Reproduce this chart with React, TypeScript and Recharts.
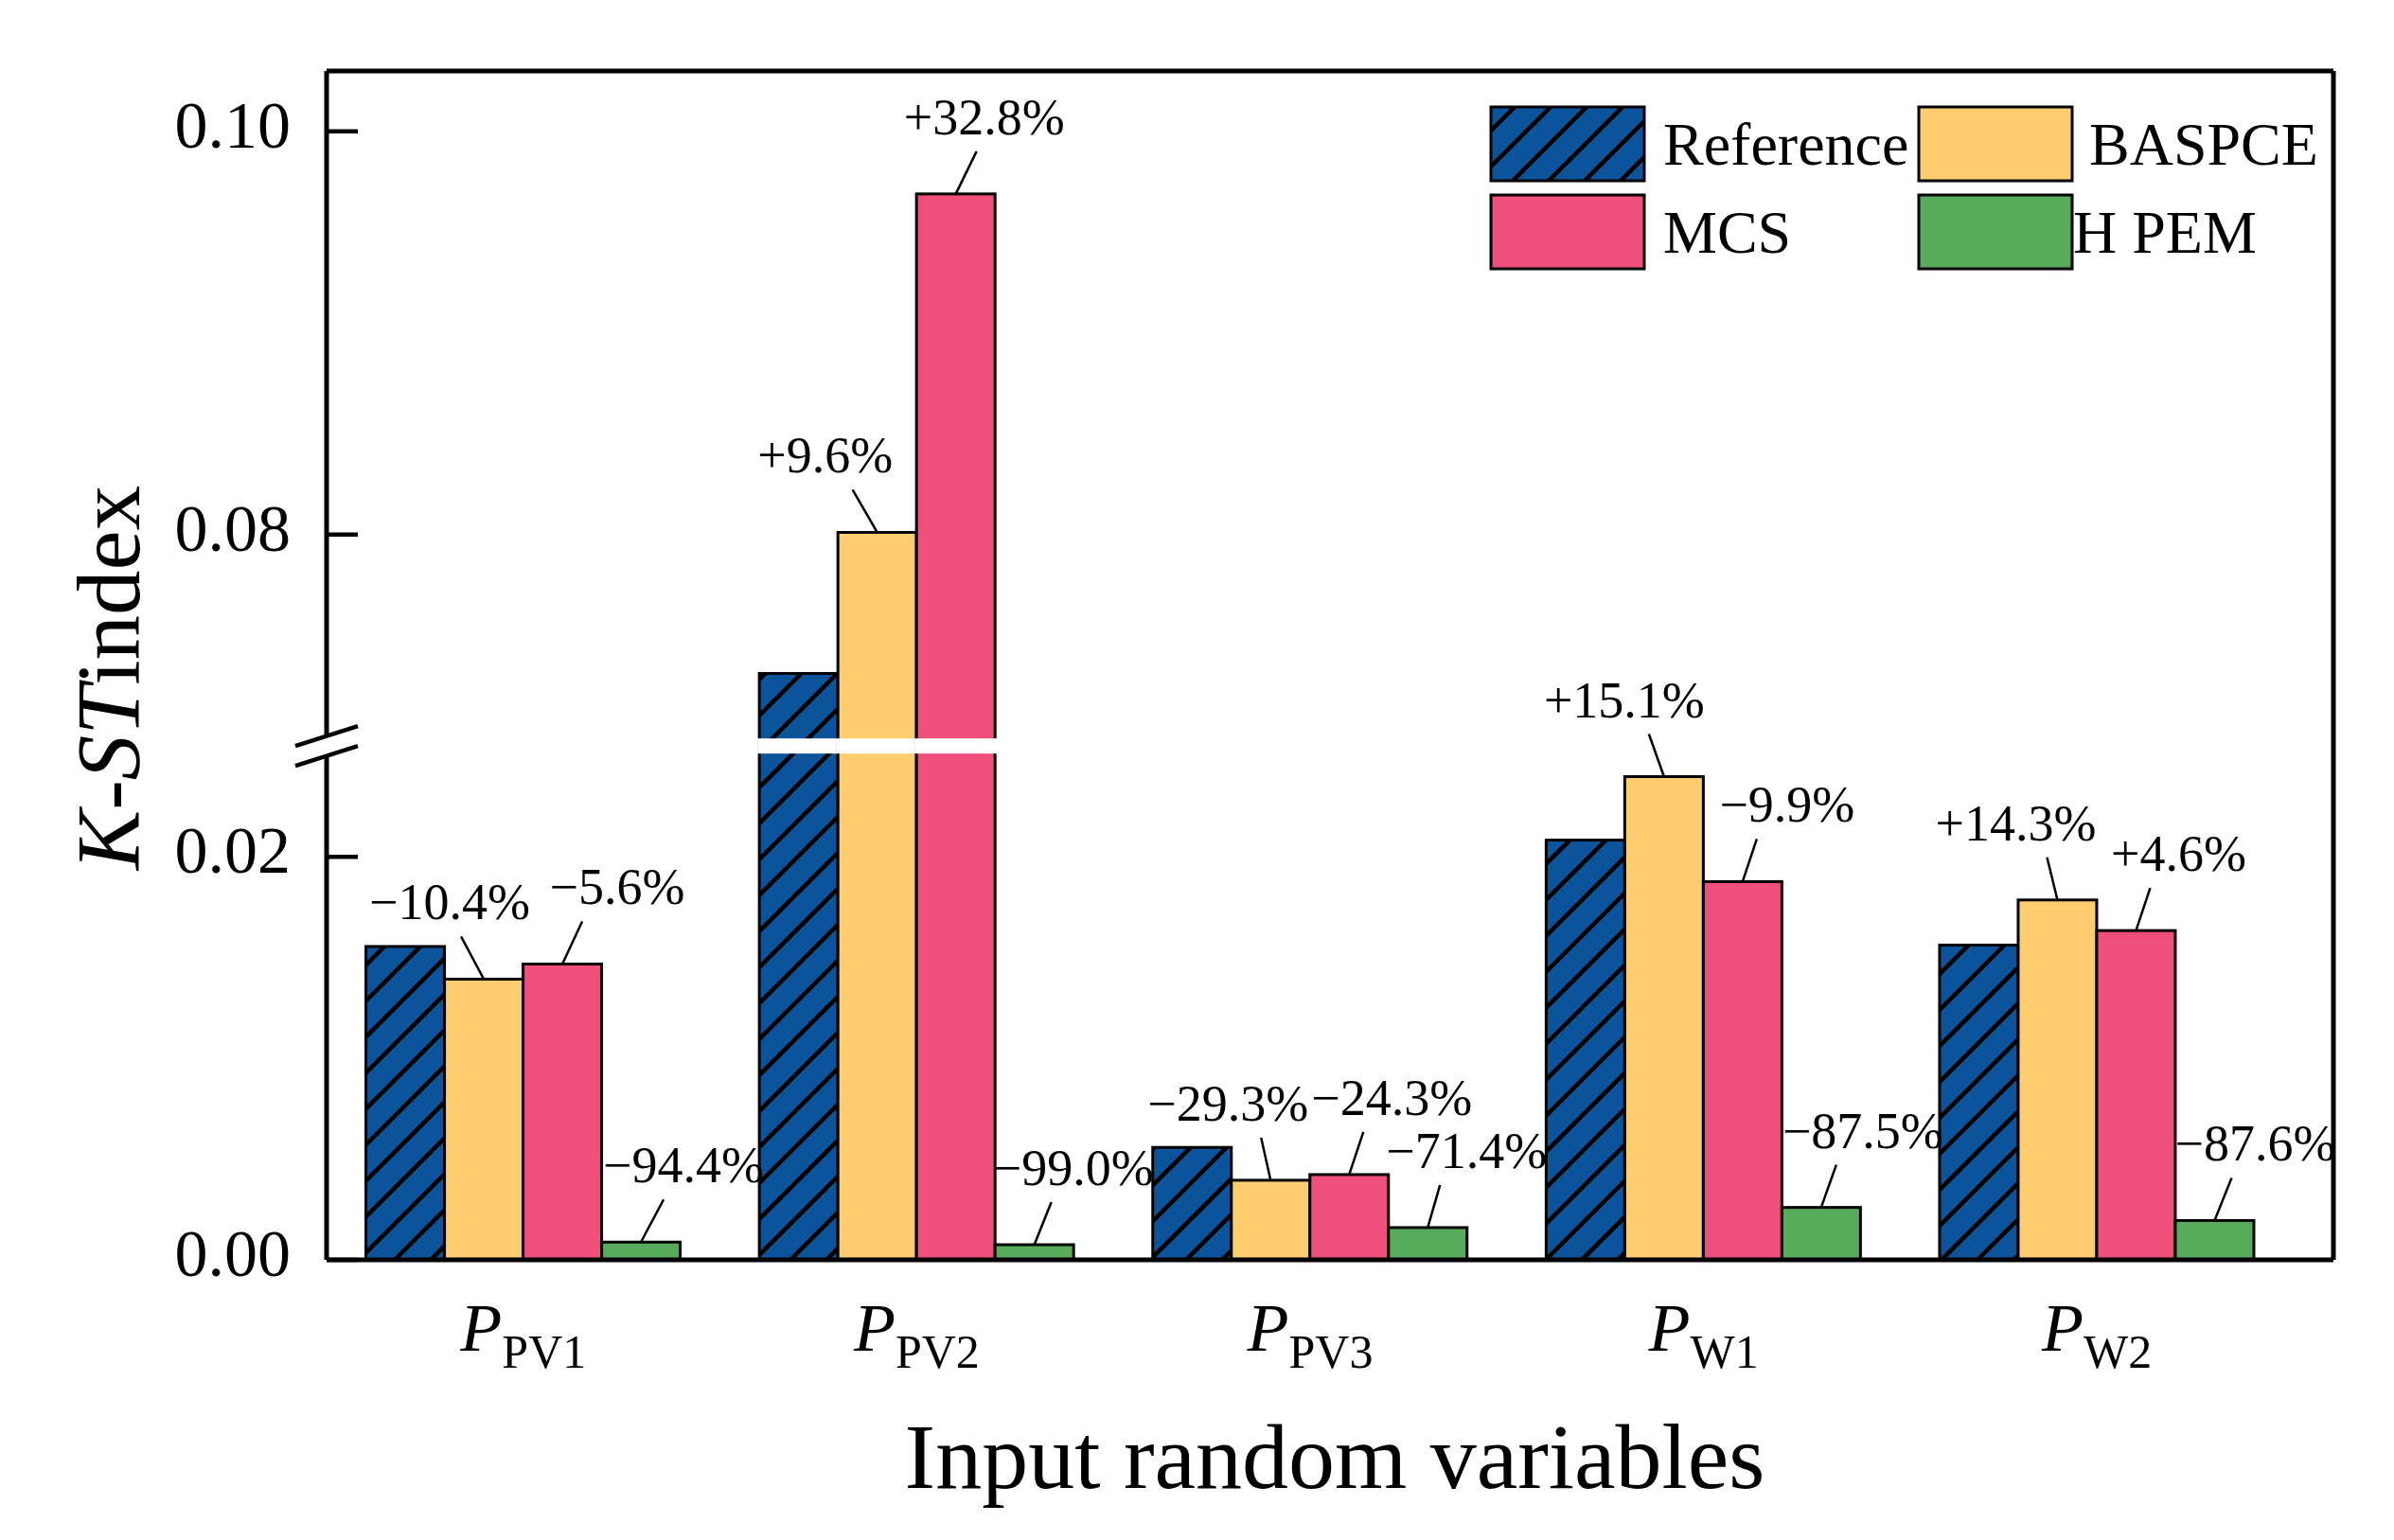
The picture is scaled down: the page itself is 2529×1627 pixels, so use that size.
import * as React from 'react';
import { BarChart, Bar, XAxis, YAxis, Legend, LabelList } from 'recharts';

// K-S index per input random variable
const categories = ['PV1', 'PV2', 'PV3', 'W1', 'W2'];
const referenceValues = [0.01555, 0.0731, 0.00558, 0.02083, 0.01562];
const baspceValues = [0.01393, 0.0801, 0.00395, 0.02398, 0.01786];
const mcsValues = [0.01468, 0.0969, 0.00423, 0.01877, 0.01634];
const hpemValues = [0.00088, 0.00075, 0.0016, 0.0026, 0.00195];

const baspceLabels = ['\u221210.4%', '+9.6%', '\u221229.3%', '+15.1%', '+14.3%'];
const mcsLabels = ['\u22125.6%', '+32.8%', '\u221224.3%', '\u22129.9%', '+4.6%'];
const hpemLabels = ['\u221294.4%', '\u221299.0%', '\u221271.4%', '\u221287.5%', '\u221287.6%'];

const yTickValues = [0, 0.02, 0.08, 0.1];

// broken y axis: values above the gap are shifted down
const BREAK_LO = 0.0255;
const BREAK_HI = 0.0695;
const SHIFT = BREAK_HI - BREAK_LO;
const Y_MAX = 0.103;

// label placement: [text dx, leader dx] from the bar top centre
const baspceOffsets = [[-36, -24], [-55, -26], [-45, -10], [-42, -16], [-44, -11]];
const mcsOffsets = [[58, 21], [30, 22], [45, 15], [47, 15], [45, 15]];
const hpemOffsets = [[45, 24], [41, 18], [41, 13], [44, 16], [43, 18]];

const FONT = '"Liberation Serif", "Times New Roman", serif';
const COLORS = { ref: '#0B549B', bas: '#FDCD6F', mcs: '#EF4F7A', hpem: '#57AB5A' };

const tf = (v: number) => (v > BREAK_LO ? v - SHIFT : v);
const untf = (v: number) => (v > BREAK_LO + 1e-9 ? v + SHIFT : v);

const rows = categories.map((c, i) => ({
  name: c,
  ref: tf(referenceValues[i]),
  bas: tf(baspceValues[i]),
  mcs: tf(mcsValues[i]),
  hpem: tf(hpemValues[i]),
}));

const BreakMark = ({ x, y }: any) => (
  <g>
    <line x1={x} x2={x} y1={y - 10} y2={y + 10} stroke="#fff" strokeWidth={9} />
    <line x1={x - 33} y1={y - 10.5 + 10.5} x2={x + 33} y2={y - 10.5 - 10.5} stroke="#000" strokeWidth={4.5} />
    <line x1={x - 33} y1={y + 10.5 + 10.5} x2={x + 33} y2={y + 10.5 - 10.5} stroke="#000" strokeWidth={4.5} />
  </g>
);

const LeftTick = (props: any) => {
  const { x, y, payload } = props;
  const v = payload.value;
  if (Math.abs(v - BREAK_LO) < 1e-9) return <BreakMark x={x} y={y} />;
  return (
    <g>
      <line x1={x} x2={x + 33} y1={y} y2={y} stroke="#000" strokeWidth={4.5} />
      <text x={x - 38} y={y + 17} textAnchor="end" fontFamily={FONT} fontSize={70} fill="#000">
        {untf(v).toFixed(2)}
      </text>
    </g>
  );
};

const RightTick = (props: any) => <BreakMark x={props.x} y={props.y} />;

const XTick = (props: any) => {
  const { x, y, payload } = props;
  return (
    <text x={x} y={y + 96} textAnchor="middle" fontFamily={FONT} fill="#000">
      <tspan fontStyle="italic" fontSize={72}>P</tspan>
      <tspan fontSize={50} dy={18}>{payload.value}</tspan>
    </text>
  );
};

const makeShape = (raw: number[]) => (p: any) => {
  const { x, y, width, height, fill, index } = p;
  const v = raw[index];
  let band = null;
  if (v > BREAK_HI && height > 0) {
    const y0 = y + height;
    const ppu = height / (v - SHIFT);
    const yb = y0 - BREAK_LO * ppu;
    band = <rect x={x - 2} y={yb - 8} width={width + 4} height={16} fill="#fff" />;
  }
  return (
    <g>
      <rect x={x} y={y} width={width} height={height} fill={fill} stroke="#000" strokeWidth={3} />
      {band}
    </g>
  );
};

const makeLabel = (texts: string[], offsets: number[][]) => (p: any) => {
  const vb = p.viewBox || p;
  const x = vb.x;
  const y = vb.y;
  const w = vb.width;
  const h = vb.height;
  const i = p.index;
  if (x == null || i == null) return null;
  const top = h < 0 ? y + h : y;
  const cx = x + w / 2;
  const [tdx, ldx] = offsets[i];
  return (
    <g>
      <line x1={cx} y1={top} x2={cx + ldx} y2={top - 45} stroke="#000" strokeWidth={2.5} />
      <text x={cx + tdx} y={top - 63} textAnchor="middle" fontFamily={FONT} fontSize={54} fill="#000">
        {texts[i]}
      </text>
    </g>
  );
};

const legendItems = [
  { name: 'Reference', fill: 'url(#hatchLegend)', bx: 5, by: 8, tx: 187 },
  { name: 'BASPCE', fill: COLORS.bas, bx: 457, by: 8, tx: 637 },
  { name: 'MCS', fill: COLORS.mcs, bx: 5, by: 101, tx: 187 },
  { name: 'H PEM', fill: COLORS.hpem, bx: 457, by: 101, tx: 620 },
];

const HatchPattern = ({ id }: { id: string }) => (
  <pattern id={id} patternUnits="userSpaceOnUse" width={38} height={38}>
    <rect width={38} height={38} fill={COLORS.ref} />
    <path d="M-9.5,9.5 L9.5,-9.5 M0,38 L38,0 M28.5,47.5 L47.5,28.5" stroke="#000" strokeWidth={4.5} />
  </pattern>
);

const LegendBox = () => (
  <svg width={900} height={200}>
    <defs>
      <HatchPattern id="hatchLegend" />
    </defs>
    {legendItems.map((it) => (
      <g key={it.name}>
        <rect x={it.bx} y={it.by} width={162} height={78} fill={it.fill} stroke="#000" strokeWidth={3} />
        <text x={it.tx} y={it.by + 39 + 22} fontFamily={FONT} fontSize={64} fill="#000">
          {it.name}
        </text>
      </g>
    ))}
  </svg>
);

const XTitle = (p: any) => {
  const vb = p.viewBox;
  return (
    <text x={vb.x + vb.width / 2 + 5} y={vb.y + 241} textAnchor="middle" fontFamily={FONT} fontSize={98} fill="#000">
      Input random variables
    </text>
  );
};

const YTitle = (p: any) => {
  const vb = p.viewBox;
  const x = vb.x + 147;
  const y = 716;
  return (
    <text x={x} y={y} transform={`rotate(-90, ${x}, ${y})`} textAnchor="middle" fontFamily={FONT} fontSize={95} fill="#000">
      <tspan fontStyle="italic">K</tspan>
      <tspan>-</tspan>
      <tspan fontStyle="italic">ST</tspan>
      <tspan>index</tspan>
    </text>
  );
};

export default function App() {
  const axisLine = { stroke: '#000', strokeWidth: 5 };
  return (
    <div style={{ position: 'fixed', left: 0, top: 0, width: 2529, height: 1627, background: '#fff' }}>
      <BarChart
        width={2529}
        height={1627}
        data={rows}
        margin={{ top: 0, right: 0, bottom: 0, left: 0 }}
        barCategoryGap="10%"
        barGap={0}
      >
        <defs>
          <HatchPattern id="hatchRef" />
        </defs>
        <XAxis
          dataKey="name"
          tick={<XTick />}
          tickLine={false}
          tickSize={0}
          tickMargin={0}
          axisLine={axisLine}
          interval={0}
          height={296}
          padding={{ left: 0, right: 42 }}
          label={{ content: XTitle }}
        />
        <XAxis
          xAxisId="top"
          orientation="top"
          dataKey="name"
          tick={false}
          tickLine={false}
          axisLine={axisLine}
          height={75}
          padding={{ left: 0, right: 42 }}
        />
        <YAxis
          type="number"
          domain={[0, Y_MAX - SHIFT]}
          ticks={[...yTickValues.map(tf).filter((t) => t <= BREAK_LO), BREAK_LO, ...yTickValues.map(tf).filter((t) => t > BREAK_LO)]}
          tick={<LeftTick />}
          tickLine={false}
          tickSize={0}
          tickMargin={0}
          interval={0}
          axisLine={axisLine}
          width={345}
          label={{ content: YTitle }}
        />
        <YAxis
          yAxisId="right"
          orientation="right"
          type="number"
          domain={[0, Y_MAX - SHIFT]}
          ticks={[BREAK_LO]}
          tick={<RightTick />}
          tickLine={false}
          tickSize={0}
          tickMargin={0}
          interval={0}
          axisLine={axisLine}
          width={64}
        />
        <Legend
          layout="vertical"
          align="center"
          verticalAlign="middle"
          content={<LegendBox />}
          wrapperStyle={{ left: 1570, top: 105, width: 900, height: 200 }}
        />
        <Bar dataKey="ref" name="Reference" fill="url(#hatchRef)" shape={makeShape(referenceValues)} isAnimationActive={false} />
        <Bar dataKey="bas" name="BASPCE" fill={COLORS.bas} shape={makeShape(baspceValues)} isAnimationActive={false}>
          <LabelList dataKey="bas" content={makeLabel(baspceLabels, baspceOffsets)} />
        </Bar>
        <Bar dataKey="mcs" name="MCS" fill={COLORS.mcs} shape={makeShape(mcsValues)} isAnimationActive={false}>
          <LabelList dataKey="mcs" content={makeLabel(mcsLabels, mcsOffsets)} />
        </Bar>
        <Bar dataKey="hpem" name="H PEM" fill={COLORS.hpem} shape={makeShape(hpemValues)} isAnimationActive={false}>
          <LabelList dataKey="hpem" content={makeLabel(hpemLabels, hpemOffsets)} />
        </Bar>
      </BarChart>
    </div>
  );
}
